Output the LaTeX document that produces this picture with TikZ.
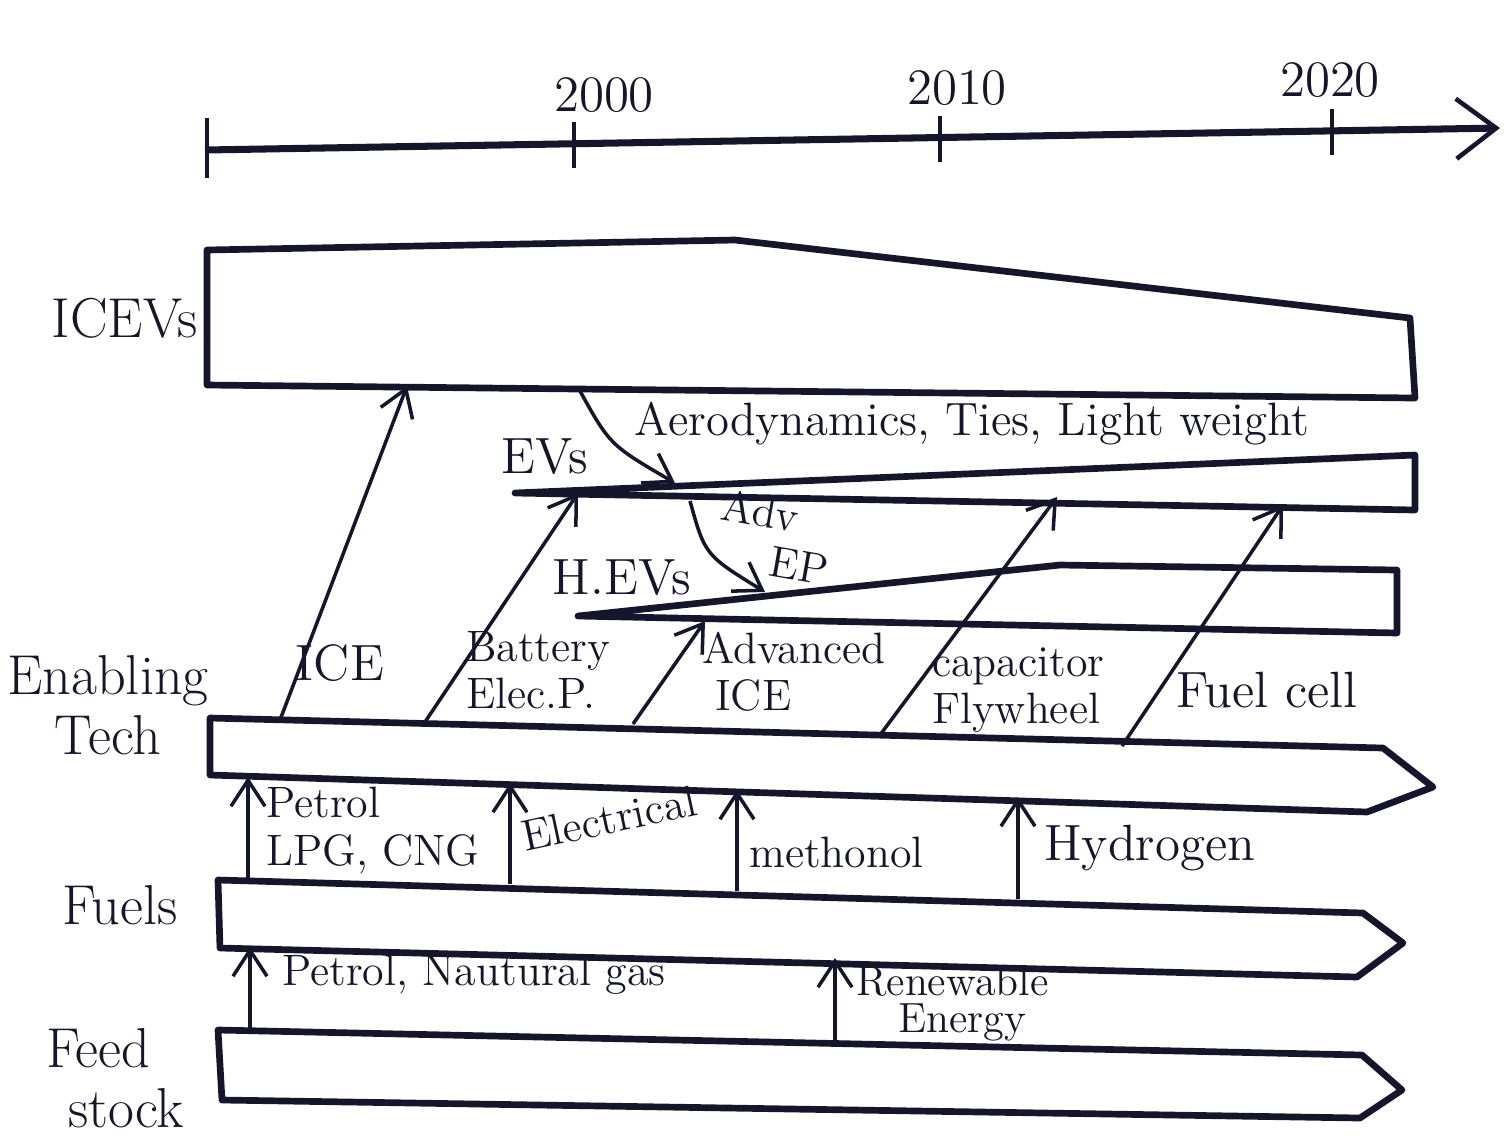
\documentclass[tikz,border=0pt]{standalone}
\usetikzlibrary{arrows.meta,calc}
\definecolor{ink}{HTML}{15152B}
\tikzset{
 band/.style={draw=ink,line width=1.9pt,line join=round},
 axisline/.style={draw=ink,line width=2pt,-{Straight Barb[length=4mm,width=6mm,line width=1.3pt]}},
 yeartick/.style={draw=ink,line width=1.2pt},
 feed/.style={-{Straight Barb[length=2.6mm,width=3.4mm]},draw=ink,line width=1pt},
 hand/.style={font=\fontsize{12.5}{13.5}\selectfont,text=ink,align=left,inner sep=1pt},
 big/.style={font=\fontsize{14.5}{15.5}\selectfont},
 head/.style={font=\fontsize{16}{17}\selectfont,text=ink,align=center,inner sep=1pt}
}

\begin{document}
\begin{tikzpicture}[x=0.01cm,y=-0.01cm]
  \useasboundingbox (0,0) rectangle (1508,1135);

  % time axis
  \coordinate (t0) at (205,150);
  \coordinate (tend) at (1500,128);
  \draw[axisline] (t0) -- (tend);
  \draw[yeartick] (207,118) -- (207,178);
  \foreach \x/\y/\lx/\ly/\yr in {574/144/604/95/2000,940/138/957/88/2010,1332/131/1330/80/2020}{
    \draw[yeartick] (\x,\y-22) -- (\x,\y+24);
    \node[hand,big] (yr-\yr) at (\lx,\ly) {\yr};
  }

  % vehicle bands
  \coordinate (icev-a) at (207,250);
  \coordinate (icev-b) at (735,240);
  \coordinate (icev-c) at (1410,318);
  \coordinate (icev-d) at (1415,398);
  \coordinate (icev-e) at (207,385);
  \draw[band] (icev-a) -- (icev-b) -- (icev-c) -- (icev-d) -- (icev-e) -- cycle;
  \node[head] (icevs) at (125,318) {ICEVs};

  \coordinate (ev-tip) at (515,493);
  \coordinate (ev-b) at (1415,455);
  \coordinate (ev-c) at (1415,510);
  \draw[band] (ev-tip) -- (ev-b) -- (ev-c) -- cycle;
  \node[hand,big] (evs) at (545,457) {EVs};

  \coordinate (hev-tip) at (578,616);
  \coordinate (hev-b) at (1060,565);
  \coordinate (hev-c) at (1397,570);
  \coordinate (hev-d) at (1397,633);
  \draw[band] (hev-tip) -- (hev-b) -- (hev-c) -- (hev-d) -- cycle;
  \node[hand,big] (hevs) at (622,578) {H.EVs};

  % technology / fuel / feedstock bands
  \draw[band] (210,718) coordinate (et-a) -- (1383,748) -- (1433,787) -- (1367,812) -- (210,775) coordinate (et-e) -- cycle;
  \node[head] (tech) at (108,705) {Enabling\\Tech};

  \draw[band] (218,880) coordinate (fu-a) -- (1363,913) -- (1403,943) -- (1357,977) -- (220,948) coordinate (fu-e) -- cycle;
  \node[head] (fuels) at (120,905) {Fuels};

  \draw[band] (218,1030) coordinate (fs-a) -- (1362,1055) -- (1402,1090) -- (1360,1118) -- (222,1100) coordinate (fs-e) -- cycle;
  \node[head] (stock) at (98,1078) {Feed\\\hspace*{1em}stock};

  % technologies into vehicles
  \coordinate (ice-s) at (280,720);   \coordinate (ice-t) at (407,386);
  \coordinate (bat-s) at (425,722);   \coordinate (bat-t) at (578,493);
  \coordinate (aice-s) at (633,724);  \coordinate (aice-t) at (705,621);
  \coordinate (cap-s) at (880,735);   \coordinate (cap-t) at (1057,497);
  \coordinate (fc-s) at (1122,746);   \coordinate (fc-t) at (1283,505);
  \draw[feed] (ice-s) -- (ice-t);
  \draw[feed] (bat-s) -- (bat-t);
  \draw[feed] (aice-s) -- (aice-t);
  \draw[feed] (cap-s) -- (cap-t);
  \draw[feed] (fc-s) -- (fc-t);
  \node[hand,big] (ice) at (340,663) {ICE};
  \node[hand,anchor=west] (bat) at (462,670) {Battery\\Elec.P.};
  \node[hand,anchor=west] (aice) at (698,672) {Advanced\\\hspace*{0.3em}ICE};
  \node[hand,anchor=west] (cap) at (928,690) {capacitor\\Flywheel};
  \node[hand,big,anchor=west] (fc) at (1172,690) {Fuel cell};

  % spill-overs between vehicles
  \coordinate (aero-s) at (580,391);  \coordinate (aero-t) at (675,483);
  \coordinate (aep-s) at (690,501);   \coordinate (aep-t) at (765,592);
  \draw[feed] (aero-s) .. controls (610,445) .. (aero-t);
  \draw[feed] (aep-s) .. controls (705,555) .. (aep-t);
  \node[hand,font=\fontsize{13.3}{14}\selectfont] (aero) at (972,424) {Aerodynamics, Ties, Light weight};
  \node[hand,rotate=-10] (aep) at (775,537) {Adv\\\hspace*{1.3em}EP};

  % fuels into technologies
  \foreach \x/\ya/\yb in {248/880/777,510/884/783,737/891/790,1018/899/797}
    \draw[feed] (\x,\ya) -- (\x,\yb);
  \node[hand,anchor=north west] (petrol) at (262,783) {Petrol\\LPG, CNG};
  \node[hand,rotate=12,anchor=west] (elec) at (518,838) {Electrical};
  \node[hand,anchor=west] (meth) at (745,852) {methonol};
  \node[hand,big,anchor=west] (hyd) at (1040,848) {Hydrogen};

  % feedstocks into fuels
  \coordinate (pg-s) at (250,1030);  \coordinate (pg-t) at (250,947);
  \coordinate (re-s) at (835,1046);  \coordinate (re-t) at (835,958);
  \draw[feed] (pg-s) -- (pg-t);
  \draw[feed] (re-s) -- (re-t);
  \node[hand,anchor=west] (png) at (278,975) {Petrol, Nautural gas};
  \node[hand,font=\fontsize{12}{10.5}\selectfont,anchor=north west] (renew) at (852,962) {Renewable\\\hspace*{1em}Energy};
\end{tikzpicture}
\end{document}
